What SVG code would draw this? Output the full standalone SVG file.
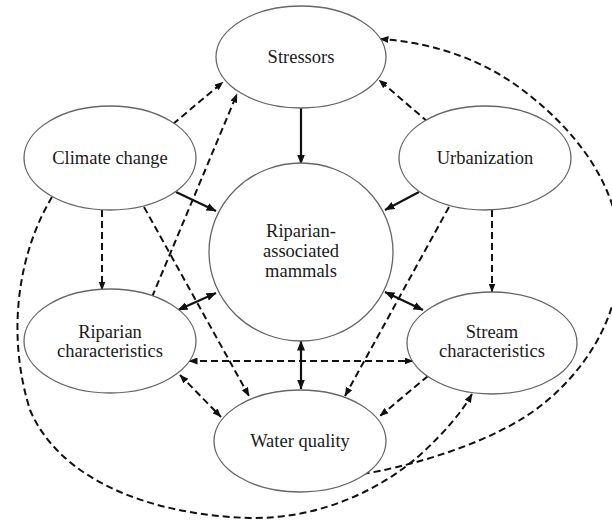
<svg xmlns="http://www.w3.org/2000/svg" width="612" height="520" viewBox="0 0 612 520">
<defs>
<marker id="ah" viewBox="0 0 10 8" refX="9.5" refY="4" markerWidth="10" markerHeight="8" markerUnits="userSpaceOnUse" orient="auto-start-reverse"><path d="M0,0 L10,4 L0,8 z" fill="#111"/></marker>
<marker id="ahd" viewBox="0 0 9 7" refX="8.5" refY="3.5" markerWidth="9" markerHeight="7" markerUnits="userSpaceOnUse" orient="auto-start-reverse"><path d="M0,0 L9,3.5 L0,7 z" fill="#111"/></marker>
<style>
.node ellipse{fill:#fff;stroke:#666;stroke-width:1.3}
.node text{font-family:"Liberation Serif","Times New Roman",serif;font-size:18.5px;fill:#1a1a1a;text-anchor:middle}
.solid{fill:none;stroke:#111;stroke-width:2.2}
.dash{fill:none;stroke:#111;stroke-width:2;stroke-dasharray:7,4}
</style>
</defs>
<rect width="612" height="520" fill="#fff"/>
<g id="connectors">
<line class="solid" x1="301" y1="108" x2="301" y2="164" marker-end="url(#ah)"/>
<line class="solid" x1="419" y1="192" x2="385" y2="210" marker-end="url(#ah)"/>
<line class="solid" x1="176" y1="192" x2="216" y2="211" marker-end="url(#ah)"/>
<line class="solid" x1="216" y1="293" x2="178" y2="310" marker-start="url(#ah)" marker-end="url(#ah)"/>
<line class="solid" x1="385" y1="292" x2="423" y2="310" marker-start="url(#ah)" marker-end="url(#ah)"/>
<line class="solid" x1="301" y1="341" x2="301" y2="389" marker-start="url(#ah)" marker-end="url(#ah)"/>
<line class="dash" x1="173" y1="124" x2="223" y2="82" marker-end="url(#ahd)"/>
<line class="dash" x1="152" y1="297" x2="237" y2="94" marker-end="url(#ahd)"/>
<line class="dash" x1="428" y1="122" x2="379" y2="80" marker-end="url(#ahd)"/>
<line class="dash" x1="102" y1="210" x2="102" y2="290" marker-end="url(#ahd)"/>
<line class="dash" x1="492" y1="210" x2="492" y2="292" marker-end="url(#ahd)"/>
<line class="dash" x1="144" y1="207" x2="249" y2="396" marker-end="url(#ahd)"/>
<line class="dash" x1="449" y1="207" x2="345" y2="396" marker-end="url(#ahd)"/>
<line class="dash" x1="189" y1="361" x2="413" y2="361" marker-start="url(#ahd)" marker-end="url(#ahd)"/>
<line class="dash" x1="180" y1="375" x2="221" y2="417" marker-start="url(#ahd)" marker-end="url(#ahd)"/>
<line class="dash" x1="428" y1="376" x2="380" y2="416" marker-end="url(#ahd)"/>
<path class="dash" d="M52,197 C20,250 5,330 30,410 C60,480 150,515 250,518 C320,519 380,490 420,455 C445,432 462,412 472,394" marker-end="url(#ahd)"/>
<path class="dash" d="M363,474 C400,468 470,450 520,420 C570,390 620,330 620,255 C621,200 590,140 520,88 C475,55 425,42 380,39" marker-end="url(#ahd)"/>
</g>
<g id="stressors" class="node"><ellipse cx="301" cy="57" rx="85" ry="51"/><text x="301" y="63">Stressors</text></g>
<g id="climate" class="node"><ellipse cx="110" cy="158" rx="86" ry="52"/><text x="110" y="164">Climate change</text></g>
<g id="urbanization" class="node"><ellipse cx="485" cy="158" rx="86" ry="52"/><text x="485" y="164">Urbanization</text></g>
<g id="mammals" class="node"><ellipse cx="301" cy="252" rx="92" ry="89"/><text x="301" y="237">Riparian-</text><text x="301" y="257">associated</text><text x="301" y="277">mammals</text></g>
<g id="riparian" class="node"><ellipse cx="110" cy="341" rx="86" ry="52"/><text x="110" y="338">Riparian</text><text x="110" y="357">characteristics</text></g>
<g id="stream" class="node"><ellipse cx="492" cy="343" rx="85" ry="51"/><text x="492" y="338">Stream</text><text x="492" y="357">characteristics</text></g>
<g id="water" class="node"><ellipse cx="300" cy="441" rx="86" ry="51"/><text x="300" y="447">Water quality</text></g>
</svg>
